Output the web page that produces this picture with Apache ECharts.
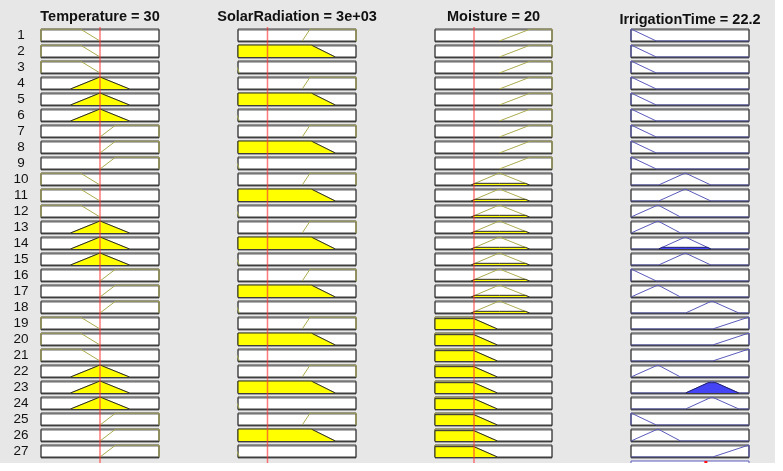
<!DOCTYPE html>
<html>
<head>
<meta charset="utf-8">
<script src="https://cdn.jsdelivr.net/npm/echarts@6/dist/echarts.min.js"></script>
<style>
  html, body { margin: 0; padding: 0; background: #fff; }
  #chart { width: 783px; height: 471px; }
</style>
</head>
<body>
<div id="chart"></div>
<script>
// rule numbers on the left
var ruleLabels = ['1','2','3','4','5','6','7','8','9','10','11','12','13','14','15','16','17','18','19','20','21','22','23','24','25','26','27'];

// variables
var inputNames = ['Temperature', 'SolarRadiation', 'Moisture'];
var inputValueText = ['30', '3e+03', '20'];
var inputValues = [30, 3000, 20];
var outputName = 'IrrigationTime';
var outputValue = 22.2;

var tempRange = [0, 60];
var solarRange = [0, 12000];
var moistRange = [0, 60];
var outRange = [0, 35];

// membership functions, trapezoid [a, b, c, d] (triangle when b == c)
var tempMF = { low: [0, 0, 20, 30], medium: [15, 30, 30, 45], high: [30, 38, 60, 60] };
var solarMF = { high: [6530, 7340, 12000, 12000], low: [0, 0, 7440, 9890], mid: [-2000, -400, -400, 150] };
var moistMF = { low: [0, 0, 18, 32], medium: [18.5, 33, 33, 48.5], high: [33, 49, 60, 60] };
var outMF = {
  veryShort: [0, 0, 0, 7.5],
  short: [0, 8, 8, 14.7],
  medium: [8.2, 16.1, 16.1, 23.7],
  long: [16.2, 24, 24, 32],
  veryLong: [24.2, 35, 35, 35]
};

// membership degree of the current inputs
var tempDegree = { low: 0, medium: 1, high: 0 };
var solarDegree = { high: 0, low: 1, mid: 0 };
var moistDegree = { low: 0.86, medium: 0.14, high: 0 };

// rule base
var ruleTemp = ['low','low','low','medium','medium','medium','high','high','high',
                'low','low','low','medium','medium','medium','high','high','high',
                'low','low','low','medium','medium','medium','high','high','high'];
var ruleSolar = ['high','low','mid','high','low','mid','high','low','mid',
                 'high','low','mid','high','low','mid','high','low','mid',
                 'high','low','mid','high','low','mid','high','low','mid'];
var ruleMoist = ['high','high','high','high','high','high','high','high','high',
                 'medium','medium','medium','medium','medium','medium','medium','medium','medium',
                 'low','low','low','low','low','low','low','low','low'];
var ruleOut = ['veryShort','veryShort','veryShort','veryShort','veryShort','veryShort','veryShort','veryShort','veryShort',
               'medium','medium','short','short','medium','medium','veryShort','short','long',
               'veryLong','veryLong','veryLong','short','long','long','veryShort','short','veryLong'];

var columns = [
  { left: 41, width: 118, range: tempRange, mf: tempMF, deg: tempDegree, rule: ruleTemp, title: inputNames[0] + ' = ' + inputValueText[0], value: inputValues[0] },
  { left: 238, width: 118, range: solarRange, mf: solarMF, deg: solarDegree, rule: ruleSolar, title: inputNames[1] + ' = ' + inputValueText[1], value: inputValues[1] },
  { left: 435, width: 117, range: moistRange, mf: moistMF, deg: moistDegree, rule: ruleMoist, title: inputNames[2] + ' = ' + inputValueText[2], value: inputValues[2] },
  { left: 631, width: 118, range: outRange, mf: outMF, rule: ruleOut, title: outputName + ' = ' + outputValue, output: true }
];

var rowTop = 29, rowStep = 16, rowH = 12;

function mfPoints(p, range, full) {
  var pts = [[p[0], 0], [p[1], 1], [p[2], 1], [p[3], 0]];
  if (full) {
    if (p[0] > range[0]) pts.unshift([range[0], 0]);
    if (p[3] < range[1]) pts.push([range[1], 0]);
  }
  return pts;
}

function clipAt(pts, h) {
  var out = [];
  for (var i = 0; i < pts.length; i++) {
    var p = pts[i];
    if (i > 0) {
      var q = pts[i - 1];
      if ((q[1] - h) * (p[1] - h) < 0) {
        var t = (h - q[1]) / (p[1] - q[1]);
        out.push([q[0] + t * (p[0] - q[0]), h]);
      }
    }
    out.push([p[0], Math.min(p[1], h)]);
  }
  return out;
}

var grids = [], xAxes = [], yAxes = [], series = [];
var font = 'Liberation Sans, Arial, Helvetica, sans-serif';

function addGrid(g, xa, ya) {
  var idx = grids.length;
  xa.gridIndex = idx; ya.gridIndex = idx;
  grids.push(g); xAxes.push(xa); yAxes.push(ya);
  return idx;
}

function hiddenAxis(extra) {
  var a = { show: true, axisLine: { show: false }, axisTick: { show: false }, axisLabel: { show: false }, splitLine: { show: false } };
  for (var k in extra) a[k] = extra[k];
  return a;
}

for (var r = 0; r < ruleLabels.length; r++) {
  // firing strength of this rule
  var fire = Math.min(tempDegree[ruleTemp[r]], solarDegree[ruleSolar[r]], moistDegree[ruleMoist[r]]);
  columns.forEach(function (col, c) {
    var xa = hiddenAxis({ type: 'value', min: col.range[0], max: col.range[1] });
    if (r === 0) {
      xa.position = 'top';
      xa.name = col.title;
      xa.nameLocation = 'middle';
      xa.nameGap = col.output ? 9 : 12;
      xa.nameTextStyle = { fontSize: 14.5, fontWeight: 'bold', color: '#111', fontFamily: font, verticalAlign: 'middle' };
    }
    var ya = hiddenAxis({ type: 'value', min: 0, max: 1 });
    if (c === 0) {
      ya.name = ruleLabels[r];
      ya.nameLocation = 'middle';
      ya.nameGap = 20;
      ya.nameRotate = 0;
      ya.nameTextStyle = { fontSize: 13.5, color: '#111', fontFamily: font, align: 'center', verticalAlign: 'middle' };
    }
    var gi = addGrid({
      left: col.left, top: rowTop + r * rowStep, width: col.width, height: rowH,
      show: true, backgroundColor: '#fff', borderColor: '#3c3c3c', borderWidth: 1,
      shadowColor: 'rgba(0,0,0,0.6)', shadowOffsetY: 1, shadowBlur: 0
    }, xa, ya);

    var name = col.rule[r];
    var pts = mfPoints(col.mf[name], col.range, !!col.output);
    var level = col.output ? fire : col.deg[name];
    series.push({
      type: 'line', xAxisIndex: gi, yAxisIndex: gi, data: pts, showSymbol: false, silent: true,
      lineStyle: { color: col.output ? '#5a5abb' : '#acac50', width: 1 }, z: 2
    });
    if (level > 0) {
      series.push({
        type: 'line', xAxisIndex: gi, yAxisIndex: gi, data: clipAt(mfPoints(col.mf[name], col.range, false), level),
        showSymbol: false, silent: true,
        lineStyle: { color: col.output ? '#20206e' : '#2a2a2a', width: 1 },
        areaStyle: { color: col.output ? '#4545f5' : '#ffff00', opacity: 1 }, z: 3
      });
    }
  });
}

// red lines at the input values
columns.forEach(function (col) {
  if (col.output) return;
  var gi = addGrid({ left: col.left, top: 27, width: col.width, height: 436, show: false },
    hiddenAxis({ type: 'value', min: col.range[0], max: col.range[1] }),
    hiddenAxis({ type: 'value', min: 0, max: 1 }));
  series.push({
    type: 'line', xAxisIndex: gi, yAxisIndex: gi, data: [[col.value, 0], [col.value, 1]],
    showSymbol: false, silent: true, lineStyle: { color: 'rgba(255,50,50,0.65)', width: 1.5 }, z: 10
  });
});

// aggregated output (cut off at the bottom)
var outCol = columns[3];
var ag = addGrid({ left: outCol.left, top: 461, width: outCol.width, height: 12, show: true,
    backgroundColor: '#fff', borderColor: '#5a5abb', borderWidth: 1 },
  hiddenAxis({ type: 'value', min: outRange[0], max: outRange[1] }),
  hiddenAxis({ type: 'value', min: 0, max: 1 }));
series.push({
  type: 'line', xAxisIndex: ag, yAxisIndex: ag, data: [[outputValue, 0], [outputValue, 1]],
  showSymbol: false, silent: true, lineStyle: { color: '#ff1010', width: 3 }, z: 10
});

var chart = echarts.init(document.getElementById('chart'));
chart.setOption({
  animation: false,
  backgroundColor: '#e7e7e7',
  grid: grids,
  xAxis: xAxes,
  yAxis: yAxes,
  series: series,
  graphic: [
    { type: 'rect', z: 100, shape: { x: 0, y: 463, width: 783, height: 8 }, style: { fill: '#fff' } },
    { type: 'rect', z: 100, shape: { x: 775, y: 0, width: 8, height: 471 }, style: { fill: '#fff' } }
  ]
});
</script>
</body>
</html>
